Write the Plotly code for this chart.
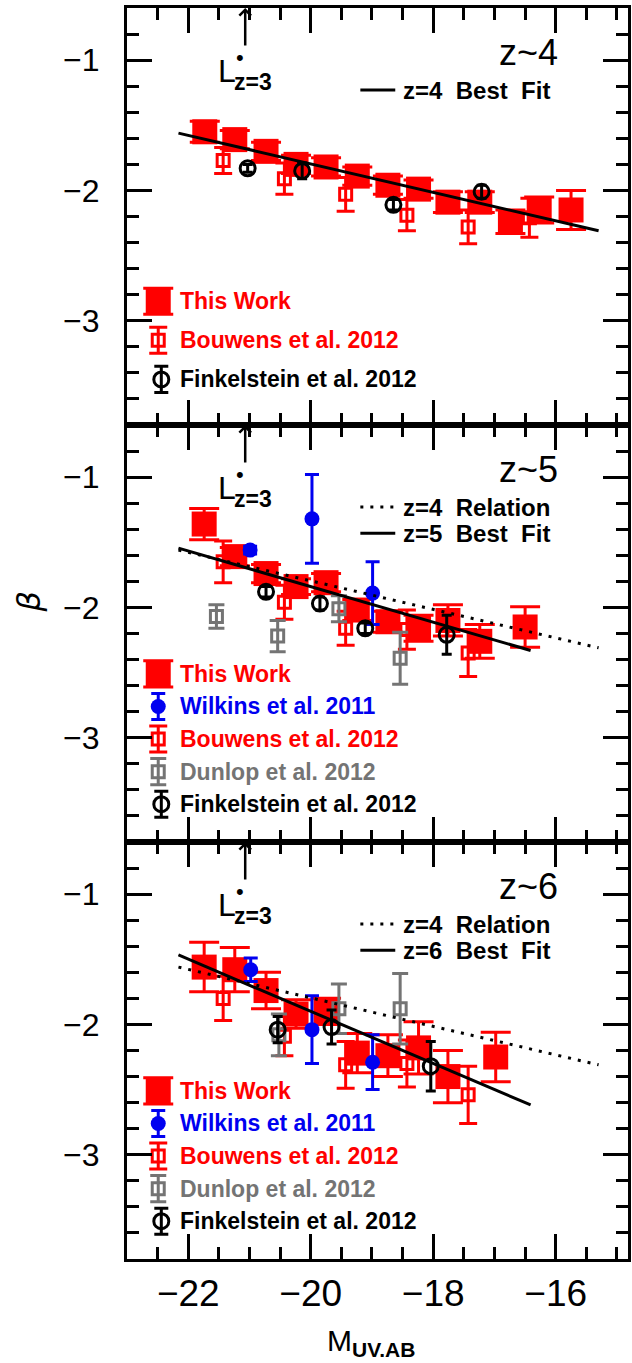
import plotly.graph_objects as go
from plotly.subplots import make_subplots

# ---------------- data ----------------
# z~4 panel
TW4_M = [-21.73, -21.24, -20.73, -20.24, -19.75, -19.24, -18.74, -18.24, -17.76, -17.24, -16.74, -16.27, -15.75]
TW4_B = [-1.55, -1.61, -1.70, -1.80, -1.82, -1.89, -1.96, -1.99, -2.09, -2.09, -2.24, -2.15, -2.15]
TW4_E = [0.08, 0.07, 0.07, 0.07, 0.07, 0.07, 0.07, 0.07, 0.08, 0.08, 0.09, 0.10, 0.15]
BOU4_M = [-21.43, -20.43, -19.43, -18.43, -17.43, -16.43]
BOU4_B = [-1.77, -1.91, -2.03, -2.19, -2.28, -2.21]
BOU4_E = [0.10, 0.12, 0.13, 0.12, 0.13, 0.15]
FIN4_M = [-21.03, -20.14, -18.65, -17.21]
FIN4_B = [-1.83, -1.85, -2.11, -2.01]
FIN4_E = [0.03, 0.06, 0.04, 0.05]

# z~5 panel
TW5_M = [-21.74, -21.24, -20.73, -20.24, -19.75, -19.24, -18.74, -18.24, -17.76, -17.24, -16.50]
TW5_B = [-1.36, -1.61, -1.74, -1.84, -1.81, -2.02, -2.11, -2.16, -2.10, -2.26, -2.15]
TW5_E = [0.12, 0.07, 0.07, 0.06, 0.07, 0.08, 0.08, 0.10, 0.12, 0.13, 0.155]
WIL5_M = [-20.99, -19.98, -18.99]
WIL5_B = [-1.56, -1.32, -1.89]
WIL5_E = [0.03, 0.34, 0.24]
BOU5_M = [-21.43, -20.43, -19.43, -18.43, -17.43]
BOU5_B = [-1.65, -1.96, -2.16, -2.17, -2.35]
BOU5_E = [0.16, 0.13, 0.13, 0.15, 0.18]
DUN5_M = [-21.54, -20.54, -19.54, -18.54]
DUN5_B = [-2.07, -2.22, -2.01, -2.39]
DUN5_E = [0.09, 0.12, 0.10, 0.20]
FIN5_M = [-20.73, -19.85, -19.11, -17.78]
FIN5_B = [-1.88, -1.97, -2.16, -2.21]
FIN5_E = [0.04, 0.05, 0.04, 0.15]

# z~6 panel
TW6_M = [-21.74, -21.24, -20.73, -20.24, -19.75, -19.24, -18.74, -18.24, -17.76, -16.98]
TW6_B = [-1.56, -1.58, -1.74, -1.92, -1.90, -2.22, -2.24, -2.18, -2.40, -2.25]
TW6_E = [0.19, 0.17, 0.14, 0.11, 0.10, 0.15, 0.16, 0.20, 0.20, 0.19]
WIL6_M = [-20.98, -19.98, -18.99]
WIL6_B = [-1.58, -2.04, -2.29]
WIL6_E = [0.09, 0.26, 0.21]
BOU6_M = [-21.43, -20.43, -19.43, -18.43, -17.43]
BOU6_B = [-1.80, -2.09, -2.31, -2.30, -2.54]
BOU6_E = [0.17, 0.15, 0.18, 0.18, 0.22]
DUN6_M = [-20.52, -19.54, -18.54]
DUN6_B = [-2.08, -1.88, -1.88]
DUN6_E = [0.16, 0.19, 0.27]
FIN6_M = [-20.54, -19.66, -18.04]
FIN6_B = [-2.04, -2.02, -2.32]
FIN6_E = [0.10, 0.13, 0.19]

# fit relations (end points)
FIT4_M = [-22.16, -15.30]
FIT4_B = [-1.56, -2.31]
FIT5_M = [-22.16, -16.41]
FIT5_B = [-1.545, -2.33]
FIT6_M = [-22.16, -16.41]
FIT6_B = [-1.467, -2.618]

LSTAR_Z3 = -21.07
PANEL_LABELS = ["z~4", "z~5", "z~6"]
FIT_LABELS = ["z=4&nbsp; Best&nbsp; Fit", "z=5&nbsp; Best&nbsp; Fit", "z=6&nbsp; Best&nbsp; Fit"]
REL_LABEL = "z=4&nbsp; Relation"
X_TICKS = [-22, -20, -18, -16]
Y_TICKS = [-1, -2, -3]

# ---------------- styling ----------------
RED = "#FF0000"
BLUE = "#0000F0"
GRAY = "#747474"
BLACK = "#000000"
FONT = "Liberation Sans"

STY = {
    "tw": dict(symbol="square", size=25, color=RED, lw=0, cap=15),
    "wil": dict(symbol="circle", size=15, color=BLUE, lw=0, cap=7),
    "bou": dict(symbol="square-open", size=12, color=RED, lw=3, cap=9),
    "dun": dict(symbol="square-open", size=12, color=GRAY, lw=3, cap=8),
    "fin": dict(symbol="circle-open", size=15, color=BLACK, lw=3, cap=5),
}
NAMES = {
    "tw": "This Work",
    "wil": "Wilkins et al. 2011",
    "bou": "Bouwens et al. 2012",
    "dun": "Dunlop et al. 2012",
    "fin": "Finkelstein et al. 2012",
}

PANELS = [
    dict(sets=[("tw", TW4_M, TW4_B, TW4_E), ("bou", BOU4_M, BOU4_B, BOU4_E),
               ("fin", FIN4_M, FIN4_B, FIN4_E)],
         fit=(FIT4_M, FIT4_B), rel=None, leg=["tw", "bou", "fin"]),
    dict(sets=[("tw", TW5_M, TW5_B, TW5_E), ("wil", WIL5_M, WIL5_B, WIL5_E),
               ("bou", BOU5_M, BOU5_B, BOU5_E), ("dun", DUN5_M, DUN5_B, DUN5_E),
               ("fin", FIN5_M, FIN5_B, FIN5_E)],
         fit=(FIT5_M, FIT5_B), rel=(FIT4_M, FIT4_B), leg=["tw", "wil", "bou", "dun", "fin"]),
    dict(sets=[("tw", TW6_M, TW6_B, TW6_E), ("wil", WIL6_M, WIL6_B, WIL6_E),
               ("bou", BOU6_M, BOU6_B, BOU6_E), ("dun", DUN6_M, DUN6_B, DUN6_E),
               ("fin", FIN6_M, FIN6_B, FIN6_E)],
         fit=(FIT6_M, FIT6_B), rel=(FIT4_M, FIT4_B), leg=["tw", "wil", "bou", "dun", "fin"]),
]

fig = make_subplots(rows=3, cols=1, shared_xaxes=True, vertical_spacing=0)


def pts(row, key, M, B, E):
    s = STY[key]
    fig.add_trace(go.Scatter(
        x=M, y=B, mode="markers", showlegend=False, hoverinfo="skip",
        error_y=dict(type="data", array=E, visible=True, color=s["color"],
                     thickness=3, width=s["cap"]),
        marker=dict(symbol=s["symbol"], size=s["size"], color=s["color"],
                    line=dict(color=s["color"], width=s["lw"]))), row=row, col=1)


DOT = "3px,7px"
LINE_SAMPLE_X = [-19.19, -18.62]
LINE_TEXT_X = -18.52
LEG_SYM_X = -22.49
LEG_TEXT_X = -22.17

for i, p in enumerate(PANELS):
    row = i + 1
    xr = "x" if row == 1 else "x%d" % row
    yr = "y" if row == 1 else "y%d" % row
    for key, M, B, E in p["sets"]:
        pts(row, key, M, B, E)
    # relations
    if p["rel"] is not None:
        fig.add_trace(go.Scatter(x=p["rel"][0], y=p["rel"][1], mode="lines", showlegend=False,
                                 line=dict(color=BLACK, width=3, dash=DOT)), row=row, col=1)
    fig.add_trace(go.Scatter(x=p["fit"][0], y=p["fit"][1], mode="lines", showlegend=False,
                             line=dict(color=BLACK, width=3)), row=row, col=1)
    # in-plot line legend
    items = []
    if p["rel"] is not None:
        items.append((DOT, REL_LABEL, -1.23))
        items.append(("solid", FIT_LABELS[i], -1.43))
    else:
        items.append(("solid", FIT_LABELS[i], -1.23))
    for dash, lab, yy in items:
        fig.add_trace(go.Scatter(x=LINE_SAMPLE_X, y=[yy, yy], mode="lines", showlegend=False,
                                 line=dict(color=BLACK, width=3, dash=dash)), row=row, col=1)
        fig.add_annotation(x=LINE_TEXT_X, y=yy, xref=xr, yref=yr, text="<b>%s</b>" % lab,
                           showarrow=False, xanchor="left", yanchor="middle",
                           font=dict(family=FONT, size=24, color=BLACK))
    # marker legend
    n = len(p["leg"])
    if n == 3:
        ys = [-2.85, -3.15, -3.45]
    else:
        ys = [-2.51, -2.76, -3.01, -3.26, -3.51]
    for key, yy in zip(p["leg"], ys):
        s = STY[key]
        fig.add_trace(go.Scatter(
            x=[LEG_SYM_X + (0.05 if key == "fin" else 0.0)], y=[yy], mode="markers",
            showlegend=False, hoverinfo="skip",
            error_y=dict(type="constant", value=0.1, visible=True, color=s["color"],
                         thickness=3, width=s["cap"] if key != "fin" else 7),
            marker=dict(symbol=s["symbol"], size=s["size"], color=s["color"],
                        line=dict(color=s["color"], width=s["lw"]))), row=row, col=1)
        fig.add_annotation(x=LEG_TEXT_X, y=yy, xref=xr, yref=yr, text="<b>%s</b>" % NAMES[key],
                           showarrow=False, xanchor="left", yanchor="middle",
                           font=dict(family=FONT, size=23, color=s["color"]))
    # panel label
    fig.add_annotation(x=-16.44, y=-0.94, xref=xr, yref=yr, text=PANEL_LABELS[i],
                       showarrow=False, xanchor="center", yanchor="middle",
                       font=dict(family=FONT, size=36, color=BLACK))
    # L* arrow
    fig.add_annotation(x=LSTAR_Z3, y=-0.6, ax=LSTAR_Z3, ay=-0.9, xref=xr, yref=yr,
                       axref=xr, ayref=yr, text="", showarrow=True, arrowhead=4,
                       arrowwidth=2.5, arrowsize=0.9, arrowcolor=BLACK)
    fig.add_annotation(x=-21.55, y=-1.08, xref=xr, yref=yr, text="L", showarrow=False,
                       xanchor="left", yanchor="middle",
                       font=dict(family=FONT, size=32, color=BLACK))
    fig.add_annotation(x=-21.16, y=-0.98, xref=xr, yref=yr, text="•", showarrow=False,
                       xanchor="center", yanchor="middle",
                       font=dict(family=FONT, size=22, color=BLACK))
    fig.add_annotation(x=-21.29, y=-1.165, xref=xr, yref=yr, text="<b>z=3</b>", showarrow=False,
                       xanchor="left", yanchor="middle",
                       font=dict(family=FONT, size=23, color=BLACK))

axis_common = dict(showline=True, linewidth=3, linecolor=BLACK, mirror="allticks",
                   ticks="inside", tickwidth=3, ticklen=25, tickcolor=BLACK,
                   showgrid=False, zeroline=False)
for r in range(1, 4):
    fig.update_xaxes(range=[-23, -14.82], tickmode="array", tickvals=X_TICKS,
                     minor=dict(dtick=0.5, tick0=-23, ticks="inside", ticklen=12,
                                tickwidth=3, tickcolor=BLACK),
                     tickfont=dict(family=FONT, size=37, color=BLACK),
                     ticklabelstandoff=0,
                     showticklabels=(r == 3), row=r, col=1, **axis_common)
    fig.update_yaxes(range=[-3.8, -0.6], tickmode="array", tickvals=Y_TICKS,
                     minor=dict(dtick=0.2, tick0=-1, ticks="inside", ticklen=12,
                                tickwidth=3, tickcolor=BLACK),
                     tickfont=dict(family=FONT, size=32, color=BLACK),
                     ticklabelstandoff=18,
                     row=r, col=1, **axis_common)

# axis titles
fig.add_annotation(x=0.488, y=-0.050, xref="paper", yref="paper",
                   text="M<sub><b>UV.AB</b></sub>", showarrow=False,
                   xanchor="center", yanchor="top",
                   font=dict(family=FONT, size=30, color=BLACK))
fig.add_annotation(x=-0.195, y=0.525, xref="paper", yref="paper", text="<i>β</i>",
                   textangle=-90, showarrow=False, xanchor="center", yanchor="middle",
                   font=dict(family="DejaVu Sans", size=32, color=BLACK))

fig.update_layout(width=632, height=1363, margin=dict(l=127, r=1, t=8, b=104),
                  paper_bgcolor="white", plot_bgcolor="white", showlegend=False)

fig.write_html("out.html")
